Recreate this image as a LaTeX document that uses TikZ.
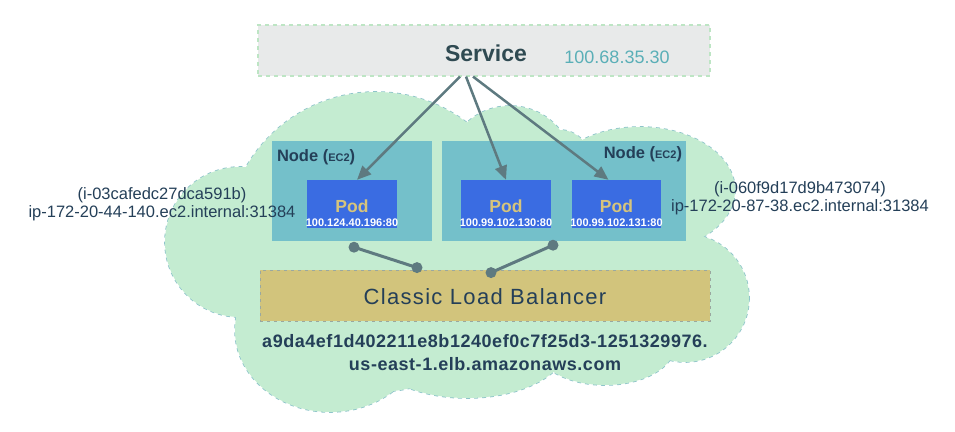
\documentclass[tikz,border=0pt]{standalone}
\usepackage{fontspec}
\setmainfont{Liberation Sans}
\usetikzlibrary{arrows.meta,positioning}
\definecolor{cloudfill}{HTML}{C4ECD1}
\definecolor{cloudedge}{HTML}{8EC4CA}
\definecolor{svcfill}{HTML}{E8EAEA}
\definecolor{svcedge}{HTML}{BDE5C4}
\definecolor{ec2fill}{HTML}{74C0CA}
\definecolor{podfill}{HTML}{3A6CE2}
\definecolor{podtext}{HTML}{D6C47C}
\definecolor{lbfill}{HTML}{D2C47C}
\definecolor{lbedge}{HTML}{9AA8A0}
\definecolor{wire}{HTML}{5E7A80}
\definecolor{ink}{HTML}{243F58}
\definecolor{svcink}{HTML}{2F4A52}
\definecolor{ipteal}{HTML}{5AAFB7}
\newcommand\fsz[2]{\fontsize{#1}{#2}\selectfont}
\def\cloudparts{240/242/75/75, 376/242/150/150, 510/165/62/59, 560/160/30/30,
 640/190/95/63, 685/298/64/64, 605/345/70/40, 467/345/100/53, 330/330/95/82}
\tikzset{
 svcbox/.style={fill=svcfill,draw=svcedge,dash pattern=on 4pt off 4pt,line width=1.2pt,
  minimum width=452pt,minimum height=51pt,inner sep=0pt},
 ec2box/.style={fill=ec2fill,minimum height=100pt,inner sep=0pt},
 podbox/.style={fill=podfill,minimum width=90pt,minimum height=48pt,inner sep=0pt},
 lbbox/.style={fill=lbfill,draw=lbedge,dash pattern=on 3pt off 4pt,line width=0.8pt,
  minimum width=450pt,minimum height=51pt,inner sep=0pt},
 ec2lbl/.style={font=\bfseries\fsz{16.5}{18},text=ink,inner sep=0pt},
 podlbl/.style={font=\bfseries\fsz{17.5}{18},text=podtext,inner sep=0pt},
 podip/.style={font=\bfseries\fsz{11}{12},text=white,inner sep=0pt},
 hostlbl/.style={font=\fsz{16.5}{18},text=ink,align=center,inner sep=0pt},
 svcarrow/.style={->,draw=wire,fill=wire,line width=2.5pt},
 lbwire/.style={draw=wire,line width=3pt}
}
\begin{document}
\begin{tikzpicture}[x=1pt,y=-1pt,>={Triangle[length=14pt,width=12pt]}]
 \useasboundingbox (0,0) rectangle (955,431);
 % cloud
 \foreach \cx/\cy/\rx/\ry in \cloudparts
  \draw[cloudedge,line width=1.6pt,dash pattern=on 4pt off 4pt] (\cx,\cy) ellipse ({\rx} and {\ry});
 \foreach \cx/\cy/\rx/\ry in \cloudparts
  \fill[cloudfill] (\cx,\cy) ellipse ({\rx} and {\ry});
 \fill[cloudfill] (470,260) ellipse (200 and 110);

 \node[svcbox] (svc) at (484,50.5) {};
 \node[font=\bfseries\fsz{23}{24},text=svcink] (svcname) at (486,53) {Service};
 \node[font=\fsz{18}{20},text=ipteal] (svcip) at (617,57) {100.68.35.30};

 \node[ec2box,minimum width=160pt] (ec2a) at (352,191) {};
 \node[ec2box,minimum width=244pt] (ec2b) at (564,191) {};
 \node[ec2lbl,anchor=west] (ec2alab) at ([xshift=5pt,yshift=-16pt]ec2a.north west) {Node ({\fsz{11}{12}EC2})};
 \node[ec2lbl,anchor=east] (ec2blab) at ([xshift=-4pt,yshift=-13pt]ec2b.north east) {Node ({\fsz{11}{12}EC2})};

 \node[podbox] (poda) at (352,204) {};
 \node[podbox] (podb) at (506,204) {};
 \node[podbox,minimum width=89pt] (podc) at (616.5,204) {};
 \node[podlbl] (podalab) at ([yshift=-2pt]poda.center) {Pod};
 \node[podlbl] (podblab) at ([yshift=-2pt]podb.center) {Pod};
 \node[podlbl] (podclab) at ([yshift=-2pt]podc.center) {Pod};
 \node[podip] (podaip) at ([yshift=5pt]poda.south) {100.124.40.196:80};
 \node[podip] (podbip) at ([yshift=5pt]podb.south) {100.99.102.130:80};
 \node[podip] (podcip) at ([yshift=5pt]podc.south) {100.99.102.131:80};

 \draw[svcarrow] ([xshift=-24pt]svc.south) -- ([xshift=5pt]poda.north);
 \draw[svcarrow] ([xshift=-18pt]svc.south) -- (podb.north);
 \draw[svcarrow] ([xshift=-11pt]svc.south) -- ([xshift=-8pt]podc.north);

 \node[lbbox] (lb) at (485,295.5) {};
 \node[font=\fsz{22}{24}\addfontfeature{LetterSpace=6},text=ink] (lbname) at (485,297) {Classic Load Balancer};

 \coordinate (wa1) at ([xshift=2pt,yshift=-6pt]ec2a.south);
 \coordinate (wa2) at ([xshift=-68pt,yshift=2pt]lb.north);
 \coordinate (wb1) at ([xshift=-11pt,yshift=-4pt]ec2b.south);
 \coordinate (wb2) at ([xshift=6pt,yshift=-3pt]lb.north);
 \draw[lbwire] (wa1) -- (wa2);
 \draw[lbwire] (wb1) -- (wb2);
 \fill[wire] (wa1) circle (5.5pt) (wa2) circle (5.5pt) (wb1) circle (5.5pt) (wb2) circle (5.5pt);

 \node[font=\bfseries\fsz{18}{23}\addfontfeature{LetterSpace=3},text=ink,align=center] (lbdns) at (485,352.5)
  {a9da4ef1d402211e8b1240ef0c7f25d3-1251329976.\\us-east-1.elb.amazonaws.com};

 \node[hostlbl] (hosta) at (162,204) {(i-03cafedc27dca591b)\\ip-172-20-44-140.ec2.internal:31384};
 \node[hostlbl] (hostb) at (800,198.5) {(i-060f9d17d9b473074)\\ip-172-20-87-38.ec2.internal:31384};
\end{tikzpicture}
\end{document}
